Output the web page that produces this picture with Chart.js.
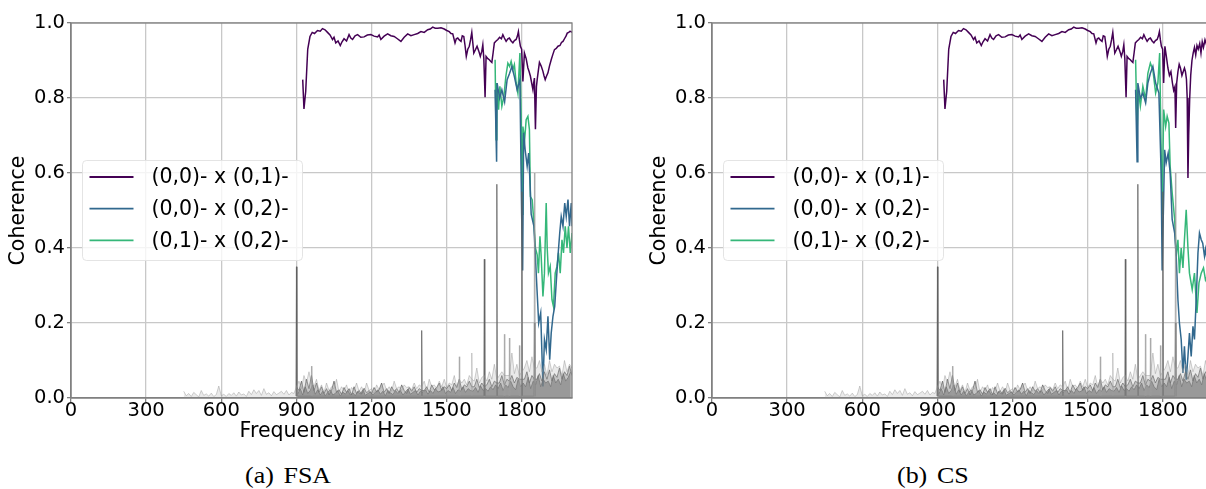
<!DOCTYPE html>
<html><head><meta charset="utf-8">
<script src="https://cdn.jsdelivr.net/npm/chart.js@4.4.1/dist/chart.umd.min.js"></script>
<style>
html,body{margin:0;padding:0;background:#fff;overflow:hidden;width:1206px;height:489px;}
#wrap{position:relative;width:1206px;height:489px;overflow:hidden;}
canvas{position:absolute;top:0;}
.cap{position:absolute;top:463px;font-family:"Liberation Serif",Times,serif;font-weight:400;font-size:24px;line-height:24px;color:#000;transform:scaleX(1.08);transform-origin:0 0;white-space:nowrap;}
</style></head><body>
<div id="wrap">
<canvas id="cA" width="603" height="450" style="left:0"></canvas>
<canvas id="cB" width="603" height="450" style="left:641px"></canvas>
<div class="cap" style="left:245px">(a)<span style="margin-left:9px">FSA</span></div>
<div class="cap" style="left:897px">(b)<span style="margin-left:9px">CS</span></div>
</div>
<script>
// ---------- data ----------
const xTicks = [0,300,600,900,1200,1500,1800];
const yTicks = [0,0.2,0.4,0.6,0.8,1.0];
const seriesLabels = ['(0,0)- x (0,1)-','(0,0)- x (0,2)-','(0,1)- x (0,2)-'];

// light grey noise (all pairs)
const greyHzA = [450,460,470,480,490,500,510,520,530,540,
550,560,570,580,590,600,610,620,630,640,
650,660,670,680,690,700,710,720,730,740,
750,760,770,780,790,800,810,820,830,840,
850,860,870,880,890,900,910,920,930,940,
950,960,970,980,990,1000,1010,1020,1030,1040,
1050,1060,1070,1080,1090,1100,1110,1120,1130,1140,
1150,1160,1170,1180,1190,1200,1210,1220,1230,1240,
1250,1260,1270,1280,1290,1300,1310,1320,1330,1340,
1350,1360,1370,1380,1390,1400,1410,1420,1430,1440,
1450,1460,1470,1480,1490,1500,1510,1520,1530,1540,
1550,1560,1570,1580,1590,1600,1610,1620,1630,1640,
1650,1660,1670,1680,1690,1700,1710,1720,1730,1740,
1750,1760,1770,1780,1790,1800,1810,1820,1830,1840,
1850,1860,1870,1880,1890,1900,1910,1920,1930,1940,
1950,1960,1970,1980,1990,2000];
const greyA = [.018,.006,.012,.004,.015,.009,.003,.02,.007,.011,
.005,.013,.004,.009,.032,.006,.01,.004,.012,.007,
.014,.005,.016,.008,.011,.004,.018,.009,.022,.012,
.02,.007,.025,.01,.014,.006,.017,.009,.013,.018,
.01,.02,.008,.015,.012,.03,.045,.025,.06,.04,
.07,.04,.03,.05,.02,.035,.015,.04,.02,.03,
.025,.05,.015,.03,.02,.035,.012,.028,.02,.04,
.018,.03,.015,.04,.02,.025,.012,.035,.022,.03,
.04,.02,.03,.018,.045,.025,.03,.02,.035,.028,
.03,.022,.04,.025,.035,.03,.045,.02,.05,.03,
.035,.025,.045,.03,.05,.028,.04,.035,.06,.03,
.05,.04,.05,.035,.06,.05,.045,.08,.04,.055,
.06,.045,.07,.05,.09,.05,.06,.07,.06,.06,
.06,.12,.065,.09,.06,.07,.08,.1,.07,.11,
.08,.08,.1,.07,.09,.06,.1,.07,.09,.08,
.085,.06,.1,.07,.09,.08];

// dark grey noise, set 1
const greyHzB = [900,910,920,930,940,950,960,970,980,990,
1000,1010,1020,1030,1040,1050,1060,1070,1080,1090,
1100,1110,1120,1130,1140,1150,1160,1170,1180,1190,
1200,1210,1220,1230,1240,1250,1260,1270,1280,1290,
1300,1310,1320,1330,1340,1350,1360,1370,1380,1390,
1400,1410,1420,1430,1440,1450,1460,1470,1480,1490,
1500,1510,1520,1530,1540,1550,1560,1570,1580,1590,
1600,1610,1620,1630,1640,1650,1660,1670,1680,1690,
1700,1710,1720,1730,1740,1750,1760,1770,1780,1790,
1800,1810,1820,1830,1840,1850,1860,1870,1880,1890,
1900,1910,1920,1930,1940,1950,1960,1970,1980,1990,
2000];
const greyB = [.03,.02,.045,.015,.05,.025,.06,.02,.04,.015,
.03,.012,.025,.008,.02,.045,.015,.022,.01,.028,
.015,.025,.008,.03,.012,.02,.01,.026,.014,.02,
.012,.028,.016,.022,.04,.015,.025,.012,.03,.018,
.025,.015,.035,.02,.012,.028,.018,.03,.015,.025,
.02,.02,.03,.015,.035,.022,.028,.04,.02,.03,
.025,.035,.02,.04,.028,.05,.022,.035,.03,.045,
.03,.03,.05,.028,.04,.03,.035,.05,.03,.045,
.04,.04,.06,.035,.05,.045,.06,.04,.055,.05,
.05,.05,.07,.04,.06,.05,.05,.065,.045,.07,
.05,.075,.045,.065,.055,.08,.05,.07,.06,.085,
.06];

// dark grey noise, set 2
const greyHzC = [905,915,925,935,945,955,965,975,985,995,
1005,1015,1025,1035,1045,1055,1065,1075,1085,1095,
1105,1115,1125,1135,1145,1155,1165,1175,1185,1195,
1205,1215,1225,1235,1245,1255,1265,1275,1285,1295,
1305,1315,1325,1335,1345,1355,1365,1375,1385,1395,
1405,1415,1425,1435,1445,1455,1465,1475,1485,1495,
1505,1515,1525,1535,1545,1555,1565,1575,1585,1595,
1605,1615,1625,1635,1645,1655,1665,1675,1685,1695,
1705,1715,1725,1735,1745,1755,1765,1775,1785,1795,
1805,1815,1825,1835,1845,1855,1865,1875,1885,1895,
1905,1915,1925,1935,1945,1955,1965,1975,1985,1995];
const greyC = [.01,.025,.008,.03,.012,.02,.035,.01,.022,.008,
.018,.006,.015,.022,.008,.012,.02,.005,.016,.01,
.02,.008,.014,.006,.018,.01,.022,.007,.012,.016,
.008,.015,.022,.01,.018,.006,.02,.014,.009,.02,
.012,.02,.008,.016,.024,.01,.015,.02,.008,.018,
.015,.022,.01,.02,.012,.025,.016,.018,.03,.012,
.02,.015,.028,.012,.022,.018,.03,.015,.025,.02,
.018,.028,.015,.032,.02,.025,.018,.03,.022,.035,
.025,.04,.02,.035,.028,.045,.03,.022,.05,.03,
.04,.03,.055,.025,.045,.035,.06,.03,.05,.04,
.045,.03,.06,.04,.05,.035,.065,.045,.055,.07];

// narrow spikes
const darkSpikeHz = [898,900,902,1398,1400,1402,1648,1650,1652,1698,1700,1702,1798,1800,1802,1848,1850,1852];
const darkSpike = [.005,.35,.005,.005,.18,.005,.005,.37,.005,.005,.57,.005,.005,.55,.005,.005,.2,.005];
const lightSpikeHz = [958,960,962,1548,1550,1552,1598,1600,1602,1728,1730,1732,1748,1750,1752,1788,1790,1792,1848,1850,1852];
const lightSpike = [.005,.085,.005,.005,.11,.005,.005,.12,.005,.005,.17,.005,.005,.16,.005,.005,.14,.005,.005,.6,.005];

// (a) FSA
const fsaPurpleHz = [925,930,937,945,954,963,972,984,995,1004,
1014,1024,1034,1044,1050,1057,1066,1075,1082,1090,
1100,1110,1117,1124,1134,1144,1157,1170,1183,1197,
1210,1224,1230,1237,1250,1264,1277,1290,1303,1317,
1330,1344,1357,1370,1384,1397,1410,1424,1434,1444,
1454,1464,1477,1490,1500,1510,1517,1524,1533,1538,
1544,1550,1557,1562,1568,1573,1578,1584,1590,1595,
1600,1608,1614,1621,1628,1634,1640,1644,1648,1653,
1657,1664,1670,1675,1680,1685,1690,1697,1704,1711,
1718,1724,1730,1737,1744,1750,1757,1764,1770,1777,
1782,1786,1790,1794,1799,1804,1810,1817,1824,1829,
1834,1839,1844,1847,1850,1854,1858,1861,1866,1870,
1877,1884,1888,1893,1898,1904,1910,1917,1923,1930,
1937,1944,1952,1958,1964,1970,1976,1981,1987,1992,
1997,2000];
const fsaPurple = [.849,.771,.818,.93,.964,.975,.972,.98,.978,.985,
.982,.975,.968,.956,.962,.947,.952,.94,.95,.958,
.952,.969,.96,.956,.966,.969,.962,.963,.968,.969,
.965,.963,.968,.956,.965,.971,.966,.964,.958,.951,
.962,.971,.966,.969,.972,.977,.975,.982,.984,.989,
.986,.986,.987,.984,.98,.977,.972,.971,.947,.958,
.96,.955,.951,.966,.964,.94,.911,.93,.938,.955,
.975,.92,.928,.938,.925,.911,.925,.942,.905,.802,
.911,.905,.902,.898,.895,.92,.947,.952,.956,.962,
.958,.969,.96,.951,.958,.96,.952,.947,.953,.956,
.965,.977,.955,.938,.93,.844,.92,.905,.88,.87,
.858,.84,.822,.84,.853,.717,.83,.849,.875,.895,
.885,.871,.86,.849,.858,.867,.885,.902,.915,.929,
.932,.938,.94,.948,.951,.958,.965,.973,.975,.978,
.977,.975];

const fsaBlueHz = [1693,1699,1701,1711,1720,1731,1741,1751,1760,1770,
1781,1792,1799,1803,1807,1813,1821,1827,1832,1837,
1848,1857,1867,1875,1884,1890,1897,1904,1911,1917,
1924,1931,1937,1944,1951,1957,1964,1971,1977,1984,
1990,1997,2000];
const fsaBlue = [.822,.63,.84,.80,.822,.79,.849,.866,.884,.857,
.822,.849,.49,.34,.707,.662,.618,.653,.58,.49,
.458,.333,.20,.227,.031,.156,.129,.218,.102,.173,
.218,.244,.307,.378,.44,.484,.458,.52,.484,.529,
.458,.52,.458];

const fsaGreenHz = [1693,1697,1700,1707,1712,1720,1728,1736,1744,1751,
1757,1764,1770,1777,1784,1788,1792,1797,1801,1804,
1811,1817,1824,1830,1834,1841,1848,1854,1861,1866,
1872,1877,1884,1890,1897,1901,1906,1913,1920,1926,
1933,1940,1946,1953,1960,1966,1973,1980,1986,1993,
2000];
const fsaGreen = [.902,.689,.84,.769,.831,.778,.804,.858,.893,.884,
.898,.876,.889,.84,.813,.866,.92,.751,.49,.724,
.689,.742,.751,.716,.537,.529,.467,.40,.382,.333,
.431,.378,.271,.333,.52,.40,.333,.351,.262,.244,
.333,.351,.387,.333,.422,.387,.458,.40,.458,.387,
.44];

// (b) CS — shares the purple curve with FSA up to 1777 Hz
const csPurpleTailHz = [1782,1786,1790,1794,1799,1803,1808,1814,1820,1826,
1832,1838,1843,1848,1851,1855,1860,1865,1870,1876,
1881,1886,1890,1894,1897,1900,1903,1907,1911,1916,
1921,1926,1931,1936,1941,1947,1952,1957,1962,1968,
1975,1982,1990,2000];
const csPurpleTail = [.965,.977,.955,.938,.93,.84,.938,.91,.88,.86,
.87,.84,.82,.83,.72,.84,.87,.89,.88,.86,
.87,.88,.87,.85,.80,.587,.70,.80,.86,.90,
.92,.935,.915,.94,.93,.945,.92,.95,.935,.955,
.94,.95,.945,.955];
const csPurpleHz = fsaPurpleHz.slice(0,100).concat(csPurpleTailHz);
const csPurple = fsaPurple.slice(0,100).concat(csPurpleTail);

const csBlueHz = [1691,1697,1700,1710,1720,1731,1740,1750,1760,1771,
1784,1793,1797,1807,1813,1821,1829,1837,1847,1853,
1860,1866,1873,1880,1886,1893,1900,1906,1913,1920,
1926,1933,1940,1946,1953,1959,1966,1970,1980,1990,
2000];
const csBlue = [.822,.63,.84,.80,.813,.787,.84,.866,.884,.84,
.813,.60,.34,.662,.627,.653,.60,.476,.44,.378,
.262,.20,.156,.067,.138,.049,.111,.173,.111,.191,
.156,.262,.387,.44,.422,.413,.378,.396,.35,.30,
.28];

const csGreenHz = [1691,1697,1702,1710,1720,1731,1740,1750,1760,1771,
1780,1787,1797,1803,1811,1817,1824,1829,1837,1847,
1853,1860,1866,1873,1880,1886,1893,1900,1906,1917,
1926,1936,1944,1953,1962,1970,1980,1990,2000];
const csGreen = [.902,.707,.822,.778,.831,.796,.866,.893,.875,.813,
.84,.92,.49,.769,.724,.751,.733,.618,.547,.476,
.378,.422,.333,.40,.347,.422,.502,.40,.333,.289,
.333,.227,.307,.333,.347,.315,.33,.36,.34];

// ---------- chart ----------
const PURPLE = '#440154', BLUE = '#31688e', GREEN = '#35b779';
const GRID = '#c8c8c8', SPINE = '#808080';
const DARK = 'rgba(95,95,95,0.75)', LIGHT = 'rgba(150,150,150,0.45)';
Chart.defaults.font.family = "'DejaVu Sans', sans-serif";

function pts(hz, v){ return hz.map((h,i)=>({x:h, y:v[i]})); }

const framePlugin = {id:'frame', afterDatasetsDraw(chart){
  const {ctx, chartArea:a} = chart;
  ctx.save(); ctx.strokeStyle = SPINE; ctx.lineWidth = 1.3;
  ctx.strokeRect(a.left, a.top, a.right-a.left, a.bottom-a.top);
  ctx.restore();
}};
const boxLegend = {id:'boxLegend', afterDraw(chart){
  const {ctx, chartArea:a} = chart;
  const x0 = Math.round(a.left + 11) + 0.5, y0 = Math.round(a.top + 137) + 0.5, w = 220, h = 100;
  ctx.save();
  ctx.beginPath(); ctx.roundRect(x0, y0, w, h, 4);
  ctx.fillStyle = 'rgba(255,255,255,0.8)'; ctx.fill();
  ctx.strokeStyle = 'rgba(225,225,225,0.9)'; ctx.lineWidth = 1; ctx.stroke();
  const items = chart.data.datasets.filter(d => d.inLegend);
  items.forEach((d,i) => {
    const y = y0 + 16.5 + i*31.7;
    ctx.strokeStyle = d.borderColor; ctx.lineWidth = 1.8;
    ctx.beginPath(); ctx.moveTo(x0+7, y); ctx.lineTo(x0+51, y); ctx.stroke();
    ctx.fillStyle = '#000'; ctx.font = "20.5px 'DejaVu Sans'";
    ctx.textBaseline = 'middle'; ctx.textAlign = 'left';
    ctx.fillText(d.label, x0+69, y+1);
  });
  ctx.restore();
}};

function greyDs(hz, v, color, fillColor){
  return {data: pts(hz, v), borderColor: color, borderWidth: 1, pointRadius: 0, tension: 0, inLegend: false,
          fill: fillColor ? 'origin' : false, backgroundColor: fillColor || 'transparent'};
}
function lineDs(label, hz, v, color){
  return {label, data: pts(hz, v), borderColor: color, backgroundColor: color, borderWidth: 1.5, pointRadius: 0, tension: 0, inLegend: true, fill: false};
}

function makeChart(id, pHz, p, bHz, b, gHz, g){
  return new Chart(document.getElementById(id), {
    type: 'line',
    data: {datasets: [
      greyDs(greyHzA, greyA, LIGHT, 'rgba(170,170,170,0.25)'),
      greyDs(lightSpikeHz, lightSpike, LIGHT),
      greyDs(greyHzB, greyB, DARK, 'rgba(110,110,110,0.35)'),
      greyDs(greyHzC, greyC, DARK, 'rgba(100,100,100,0.55)'),
      greyDs(darkSpikeHz, darkSpike, DARK),
      lineDs(seriesLabels[0], pHz, p, PURPLE),
      lineDs(seriesLabels[1], bHz, b, BLUE),
      lineDs(seriesLabels[2], gHz, g, GREEN)
    ]},
    options: {
      responsive: false, animation: false, devicePixelRatio: 1,
      layout: {padding: {top: 23, right: 31, bottom: 2, left: 0}},
      plugins: {legend: {display: false}, tooltip: {enabled: false}, filler: {propagate: false}},
      scales: {
        x: {type: 'linear', min: 0, max: 2000,
          afterBuildTicks: s => { s.ticks = xTicks.map(v => ({value: v})); },
          ticks: {autoSkip: false, maxRotation: 0, padding: -3, color: '#000', font: {size: 19.5}, callback: v => String(v)},
          grid: {color: GRID, lineWidth: 1.3, tickLength: 4, tickColor: SPINE, drawTicks: true},
          border: {color: SPINE, width: 1.3},
          title: {display: true, text: 'Frequency in Hz', color: '#000', font: {size: 20.5}, padding: {top: 0, bottom: 4}},
          afterFit: s => { s.height = 50; }
        },
        y: {type: 'linear', min: 0, max: 1,
          afterBuildTicks: s => { s.ticks = yTicks.map(v => ({value: v})); },
          ticks: {padding: 2, color: '#000', font: {size: 19.5}, callback: v => v.toFixed(1)},
          grid: {color: GRID, lineWidth: 1.3, tickLength: 4, tickColor: SPINE, drawTicks: true},
          border: {color: SPINE, width: 1.3},
          title: {display: true, text: 'Coherence', color: '#000', font: {size: 20.5}, padding: {top: 6, bottom: 0}},
          afterFit: s => { s.width = 71; }
        }
      }
    },
    plugins: [framePlugin, boxLegend]
  });
}

makeChart('cA', fsaPurpleHz, fsaPurple, fsaBlueHz, fsaBlue, fsaGreenHz, fsaGreen);
makeChart('cB', csPurpleHz, csPurple, csBlueHz, csBlue, csGreenHz, csGreen);
</script>
</body></html>
